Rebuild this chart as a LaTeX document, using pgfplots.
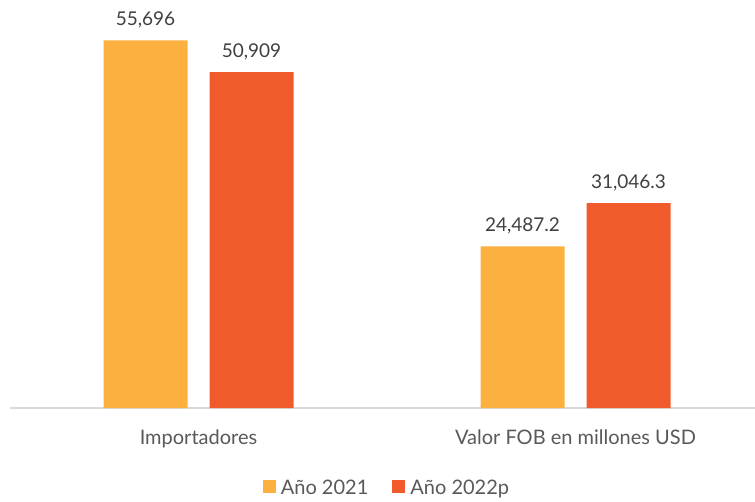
\documentclass[border=0pt]{standalone}
\usepackage{pgfplots}
\pgfplotsset{compat=1.18}
\usepackage{fontspec}
\setmainfont{Lato}
\definecolor{cOrange}{HTML}{FBB040}
\definecolor{cRed}{HTML}{F15A2B}
\definecolor{cAxis}{HTML}{D9D9D9}
\definecolor{cText}{HTML}{595959}
\definecolor{cVal}{HTML}{404040}
\begin{document}
\begin{tikzpicture}
\begin{axis}[
  scale only axis,
  width=754pt, height=396pt,
  xmin=-0.5, xmax=1.5,
  ymin=0, ymax=60000,
  ybar=22pt, bar width=84pt,
  axis y line=none,
  axis x line*=bottom,
  x axis line style={cAxis, line width=2pt, -},
  xtick={0,1},
  xticklabels={Importadores, Valor FOB en millones USD},
  xtick style={draw=none},
  xticklabel style={font=\fontsize{20}{24}\selectfont, text=cText, anchor=base, yshift=-32pt},
  ytick=\empty,
  point meta=explicit symbolic,
  nodes near coords,
  nodes near coords style={font=\fontsize{19}{22}\selectfont, text=cVal, anchor=base, inner sep=0pt, yshift=15pt},
  legend style={at={(0.5,0)}, anchor=center, yshift=-80pt, draw=none, fill=none,
    font=\fontsize{20}{24}\selectfont, text=cText, legend columns=2,
    /tikz/every odd column/.append style={column sep=3pt},
    /tikz/every even column/.append style={column sep=22pt}},
  legend image code/.code={\fill[#1] (0pt,-5pt) rectangle (13pt,8pt);},
]
\addplot[fill=cOrange, draw=none] coordinates {(0,55696) [55{,}696] (1,24487.2) [24{,}487.2]};
\addplot[fill=cRed, draw=none] coordinates {(0,50909) [50{,}909] (1,31046.3) [31{,}046.3]};
\legend{Año 2021, Año 2022p}
\end{axis}
\pgfresetboundingbox
\path (current axis.south west) ++(-10pt,-93pt) rectangle ++(755pt,501pt);
\end{tikzpicture}
\end{document}
